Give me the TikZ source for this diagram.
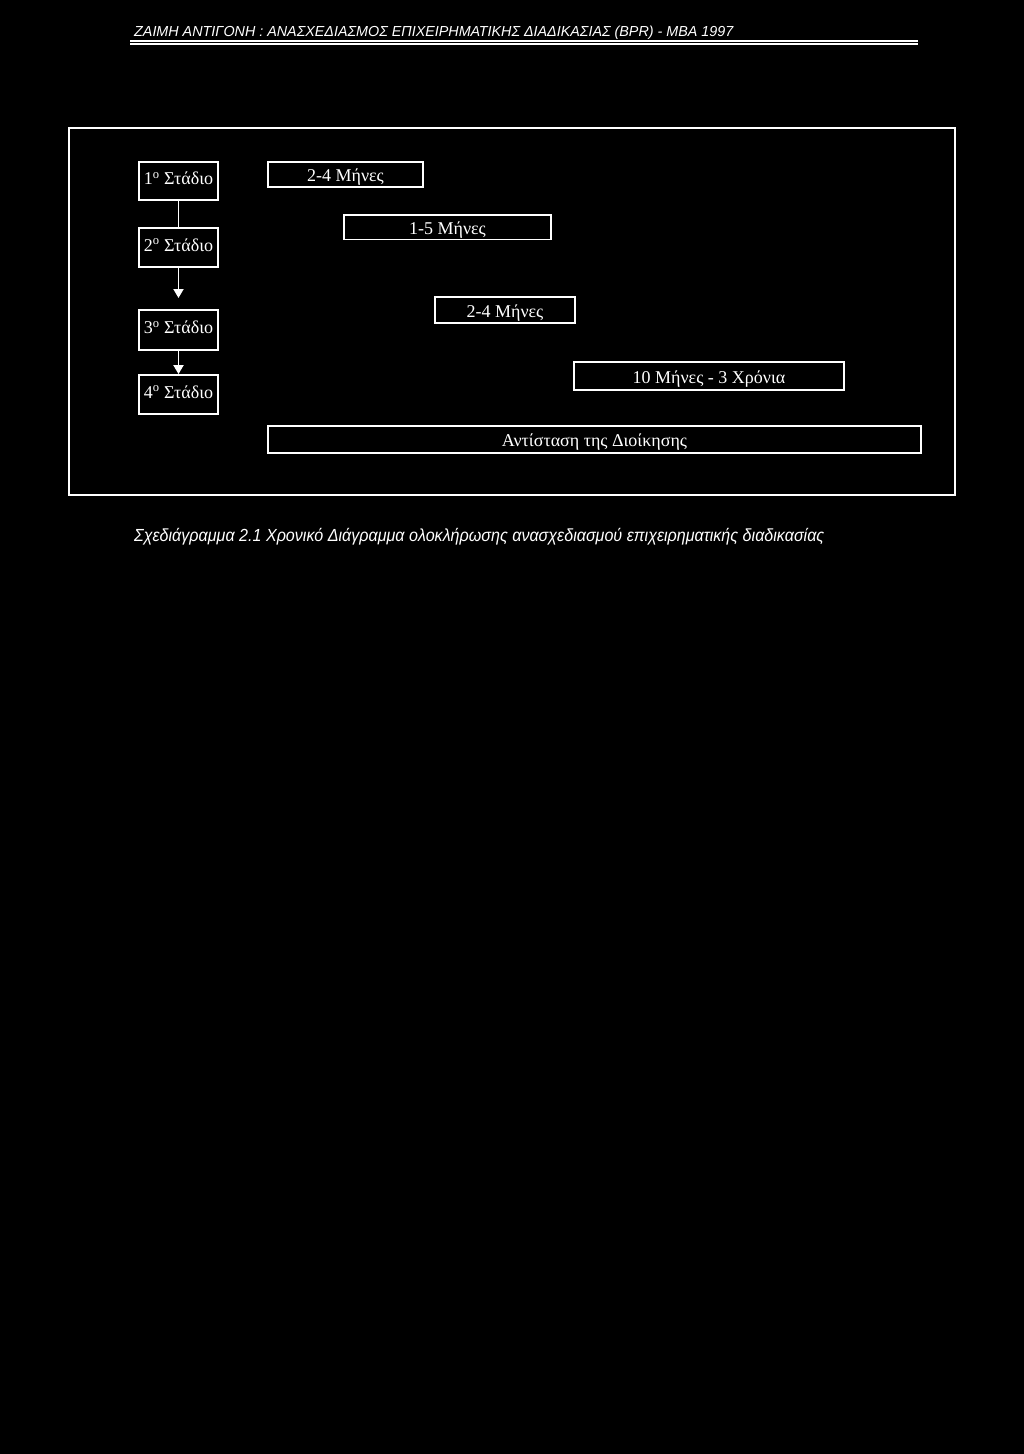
\documentclass[tikz,border=0pt]{standalone}
\usepackage{fontspec}
\setmainfont{Liberation Serif}
\newfontfamily\arialit{Liberation Sans}[UprightFont=*-Italic]
\usetikzlibrary{arrows.meta}
\begin{document}
\begin{tikzpicture}[x=1pt,y=-1pt,
  every node/.style={text=white},
  stagebox/.style={draw=white, line width=1.8pt, minimum width=79pt, inner sep=0pt, text height=7pt, text depth=0pt, font=\fontsize{18}{20}\selectfont},
  durbox/.style={draw=white, line width=1.8pt, inner sep=0pt, text height=14.6pt, text depth=0pt, font=\fontsize{18}{20}\selectfont},
  conn/.style={draw=white, line width=1.8pt},
  tip/.style={-{Triangle[width=10pt,length=9pt]}}
]
\fill[black] (0,0) rectangle (1024,1454);
\useasboundingbox (0,0) rectangle (1024,1454);
% header
\node[anchor=base west, inner sep=0pt, font=\arialit\fontsize{14.5}{16}\selectfont] (hdr) at (134,36) {\scalebox{0.988}[1]{ΖΑΙΜΗ ΑΝΤΙΓΟΝΗ : ΑΝΑΣΧΕΔΙΑΣΜΟΣ ΕΠΙΧΕΙΡΗΜΑΤΙΚΗΣ ΔΙΑΔΙΚΑΣΙΑΣ (BPR) - MBA 1997}};
\draw[white, line width=1.2pt] (130,41) -- (918,41);
\draw[white, line width=1.2pt] (130,44) -- (918,44);
% frame
\draw[white, line width=1.8pt] (69,128) rectangle (955,495);
% stages
\node[stagebox, minimum height=38pt] (s1) at (178.5,181) {1\textsuperscript{o} Στάδιο};
\node[stagebox, minimum height=39pt] (s2) at (178.5,247.5) {2\textsuperscript{o} Στάδιο};
\node[stagebox, minimum height=40pt] (s3) at (178.5,330) {3\textsuperscript{o} Στάδιο};
\node[stagebox, minimum height=39pt] (s4) at (178.5,394.5) {4\textsuperscript{o} Στάδιο};
\coordinate (a23) at (178.5,298);
\draw[conn] (s1.south) -- (s2.north);
\draw[conn, tip, fill=white] (s2.south) -- (a23);
\draw[conn, tip, fill=white] (s3.south) -- (s4.north);
% durations
\node[durbox, minimum width=155pt, minimum height=25pt] (d1) at (345.5,174.2) {2-4 Μήνες};
\node[durbox, minimum width=207pt, minimum height=24.5pt] (d2) at (447.5,227.2) {1-5 Μήνες};
\node[durbox, minimum width=140pt, minimum height=26.5pt] (d3) at (505,310) {2-4 Μήνες};
\node[durbox, minimum width=270pt, minimum height=28pt] (d4) at (709,375.8) {10 Μήνες - 3 Χρόνια};
\node[durbox, minimum width=653pt, minimum height=26.5pt] (d5) at (594.5,439.5) {Αντίσταση της Διοίκησης};
% caption
\node[anchor=base west, inner sep=0pt, font=\arialit\fontsize{17.5}{20}\selectfont] (cap) at (134,541) {\scalebox{0.92}[1]{Σχεδιάγραμμα 2.1 Χρονικό Διάγραμμα ολοκλήρωσης ανασχεδιασμού επιχειρηματικής διαδικασίας}};
\end{tikzpicture}
\end{document}
